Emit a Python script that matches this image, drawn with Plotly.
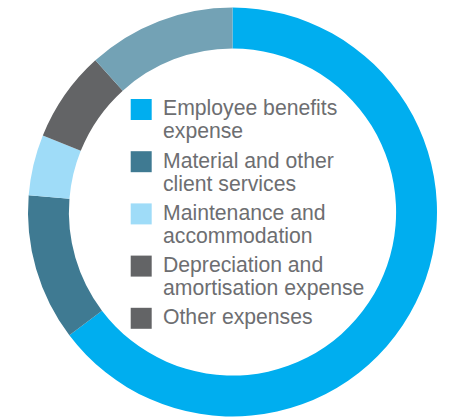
import plotly.graph_objects as go

# Expense breakdown (% of total)
categories = [
    "Employee benefits expense",
    "Material and other client services",
    "Maintenance and accommodation",
    "Depreciation and amortisation expense",
    "Other expenses",
]
values = [64.7, 11.6, 4.8, 7.2, 11.7]
slice_colors = ["#00aeef", "#3f7a92", "#9fdcf8", "#636466", "#73a2b5"]

# Legend entries: text split over lines, swatch colours as printed
legend_lines = [
    ["Employee benefits", "expense"],
    ["Material and other", "client services"],
    ["Maintenance and", "accommodation"],
    ["Depreciation and", "amortisation expense"],
    ["Other expenses"],
]
legend_colors = ["#00aeef", "#3f7a92", "#9fdcf8", "#636466", "#636466"]

W, H = 450, 417
TEXT_COLOR = "#6d6e71"
FONT = "Liberation Sans, Arial, Helvetica, sans-serif"
FONT_SIZE = 21.2

# Donut geometry in pixels
cx, cy, R = 232.5, 212.0, 204.5

fig = go.Figure(
    go.Pie(
        labels=categories,
        values=values,
        sort=False,
        direction="clockwise",
        rotation=0,
        hole=0.8,
        marker=dict(colors=slice_colors, line=dict(width=0)),
        textinfo="none",
        hoverinfo="label+percent",
        showlegend=False,
        domain=dict(
            x=[(cx - R) / W, (cx + R) / W],
            y=[(H - cy - R) / H, (H - cy + R) / H],
        ),
    )
)

# Hand-built legend inside the ring
first_baseline = 116.0
item_step = 52.2
line_step = 22.6
text_x = 161.5
sw_x0, sw_x1 = 130.7, 151.7

shapes = []
annotations = []
for i, (lines, col) in enumerate(zip(legend_lines, legend_colors)):
    base = first_baseline + i * item_step
    shapes.append(
        dict(
            type="rect", xref="paper", yref="paper",
            x0=sw_x0 / W, x1=sw_x1 / W,
            y0=(H - (base + 4)) / H, y1=(H - (base - 17)) / H,
            fillcolor=col, line=dict(width=0),
        )
    )
    for j, txt in enumerate(lines):
        b = base + j * line_step
        annotations.append(
            dict(
                text=txt, xref="paper", yref="paper",
                x=text_x / W, y=(H - (b - 0.36 * FONT_SIZE)) / H,
                xanchor="left", yanchor="middle",
                showarrow=False, borderpad=0,
                font=dict(family=FONT, size=FONT_SIZE, color=TEXT_COLOR),
            )
        )

fig.update_layout(
    width=W,
    height=H,
    margin=dict(l=0, r=0, t=0, b=0),
    paper_bgcolor="white",
    plot_bgcolor="white",
    shapes=shapes,
    annotations=annotations,
)

fig.write_html("out.html")
